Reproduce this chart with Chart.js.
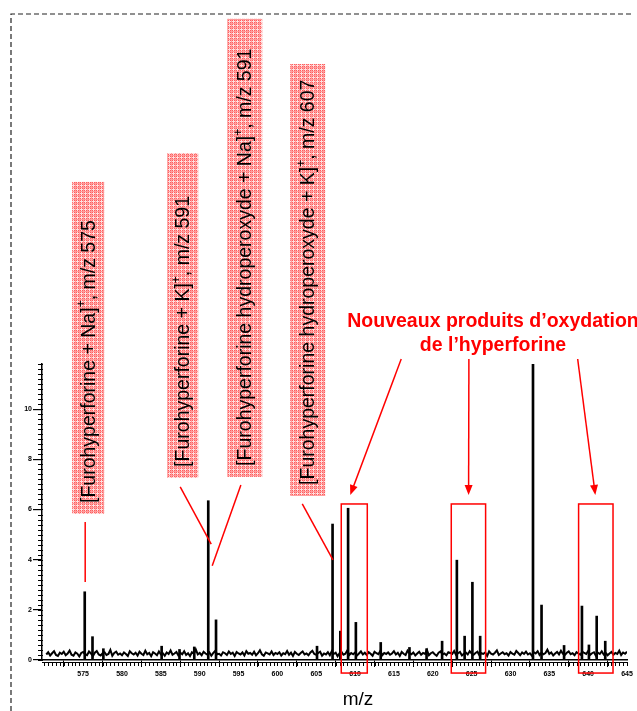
<!DOCTYPE html>
<html>
<head>
<meta charset="utf-8">
<script src="https://cdn.jsdelivr.net/npm/chart.js@4.4.1/dist/chart.umd.min.js"></script>
<style>
  html, body { margin: 0; padding: 0; background: #fff; }
  #wrap { width: 637px; height: 711px; position: relative; }
</style>
</head>
<body>
<div id="wrap"><canvas id="msChart"></canvas></div>
<script>
// Spectre de masse : m/z 570 - 645
const xTicks = [575, 580, 585, 590, 595, 600, 605, 610, 615, 620, 625, 630, 635, 640, 645];
const yTicks = [0, 2, 4, 6, 8, 10];

// pics principaux (m/z, intensité)
const peakMz = [575.2, 576.2, 577.6, 585.1, 587.4, 589.3, 591.1, 592.1, 605.1, 607.1, 608.1, 609.1,
    610.1, 613.3, 617.0, 619.2, 621.2, 623.1, 624.1, 625.1, 626.1, 632.9, 634.0, 636.9,
    639.2, 640.1, 641.1, 642.2];
const peakIntensity = [2.72, 0.93, 0.45, 0.55, 0.42, 0.52, 6.35, 1.6, 0.55, 5.42, 1.15, 6.05,
    1.5, 0.7, 0.5, 0.45, 0.75, 3.98, 0.95, 3.1, 0.95, 11.8, 2.19, 0.58,
    2.15, 0.6, 1.75, 0.75];

// bruit de fond, un point tous les 0.25 m/z depuis 570.25
const noiseStart = 570.25;
const noiseStep = 0.25;
const noiseValues = [
    0.22,0.31,0.18,0.27,0.35,0.20,0.16,0.29,0.24,0.33,0.19,0.26,0.38,0.21,0.17,0.30,0.25,0.14,0.28,0.32,
    0.23,0.19,0.34,0.26,0.15,0.29,0.36,0.22,0.18,0.27,0.31,0.20,0.24,0.40,0.17,0.28,0.33,0.21,0.26,0.19,
    0.30,0.24,0.16,0.35,0.27,0.22,0.29,0.18,0.33,0.25,0.20,0.37,0.23,0.28,0.15,0.31,0.26,0.19,0.34,0.22,
    0.27,0.17,0.30,0.24,0.38,0.21,0.26,0.32,0.18,0.29,0.23,0.35,0.20,0.27,0.16,0.31,0.25,0.42,0.22,0.28,
    0.19,0.33,0.26,0.21,0.30,0.17,0.28,0.36,0.23,0.25,0.18,0.31,0.27,0.20,0.34,0.24,0.29,0.16,0.32,0.26,
    0.22,0.30,0.18,0.35,0.25,0.28,0.21,0.33,0.19,0.27,0.39,0.23,0.17,0.30,0.26,0.22,0.34,0.20,0.28,0.24,
    0.31,0.18,0.27,0.23,0.36,0.21,0.29,0.16,0.32,0.25,0.20,0.28,0.34,0.22,0.26,0.19,0.30,0.37,0.24,0.21,
    0.28,0.33,0.17,0.26,0.22,0.31,0.19,0.35,0.24,0.29,0.15,0.27,0.32,0.21,0.25,0.38,0.20,0.28,0.23,0.30,
    0.18,0.26,0.34,0.22,0.29,0.20,0.31,0.25,0.17,0.33,0.27,0.23,0.36,0.19,0.28,0.24,0.30,0.21,0.26,0.35,
    0.22,0.29,0.16,0.32,0.25,0.20,0.37,0.27,0.23,0.30,0.18,0.26,0.33,0.21,0.28,0.24,0.40,0.19,0.27,0.31,
    0.23,0.17,0.29,0.34,0.22,0.26,0.19,0.31,0.28,0.24,0.36,0.20,0.27,0.32,0.18,0.25,0.30,0.22,0.35,0.26,
    0.21,0.28,0.33,0.19,0.27,0.24,0.30,0.16,0.34,0.25,0.22,0.29,0.38,0.20,0.26,0.31,0.23,0.27,0.18,0.32,
    0.25,0.21,0.36,0.28,0.19,0.30,0.24,0.33,0.22,0.27,0.17,0.31,0.26,0.35,0.20,0.29,0.23,0.28,0.41,0.24,
    0.30,0.18,0.26,0.32,0.22,0.37,0.25,0.20,0.29,0.34,0.23,0.27,0.19,0.31,0.26,0.21,0.33,0.28,0.24,0.36,
    0.20,0.27,0.31,0.17,0.29,0.24,0.35,0.22,0.28,0.19,0.26,0.32,0.21,0.28,0.24,0.37,0.20,0.30,0.25,0.33
];

// étiquettes des ions (boîtes hachurées), en unités du graphe
const ionLabels = [
    { text: ['[Furohyperforine + Na]', '+', ', m/z 575'], x0: 573.58, x1: 577.70, top: 19.06, bottom: 5.82 },
    { text: ['[Furohyperforine + K]', '+', ', m/z 591'], x0: 585.81, x1: 589.81, top: 20.21, bottom: 7.26 },
    { text: ['[Furohyperforine hydroperoxyde + Na]', '+', ', m/z 591'], x0: 593.54, x1: 598.05, top: 25.56, bottom: 7.30 },
    { text: ['[Furohyperforine hydroperoxyde + K]', '+', ', m/z 607'], x0: 601.65, x1: 606.16, top: 23.76, bottom: 6.54 }
];
const calloutLines = [
    [575.26, 5.50, 575.26, 3.11],
    [587.49, 6.90, 591.48, 4.62],
    [595.30, 6.98, 591.61, 3.76],
    [603.20, 6.22, 607.15, 3.99]
];
const productBoxes = [[608.22, 611.57], [622.38, 626.80], [638.77, 643.20]];
const productArrows = [
    [615.94, 12.0, 609.38, 6.58],
    [624.65, 12.0, 624.61, 6.58],
    [638.65, 12.0, 640.92, 6.58]
];

const FONT = '"Liberation Sans", Arial, Helvetica, sans-serif';
Chart.defaults.font.family = FONT;

function hatchPattern(ctx) {
    const tile = document.createElement('canvas');
    tile.width = 4; tile.height = 4;
    const t = tile.getContext('2d');
    t.fillStyle = '#ff5c5c';
    t.fillRect(0, 0, 4, 4);
    t.fillStyle = '#ffdede';
    t.fillRect(0, 1, 4, 1);
    t.fillRect(1, 0, 1, 4);
    t.fillStyle = '#ff9a9a';
    t.fillRect(0, 3, 4, 1);
    t.fillRect(3, 0, 1, 4);
    return ctx.createPattern(tile, 'repeat');
}

function arrow(ctx, x1, y1, x2, y2) {
    const a = Math.atan2(y2 - y1, x2 - x1);
    const len = 10, half = 4;
    ctx.beginPath();
    ctx.moveTo(x1, y1);
    ctx.lineTo(x2 - Math.cos(a) * len * 0.8, y2 - Math.sin(a) * len * 0.8);
    ctx.stroke();
    ctx.beginPath();
    ctx.moveTo(x2, y2);
    ctx.lineTo(x2 - Math.cos(a) * len - Math.sin(a) * half, y2 - Math.sin(a) * len + Math.cos(a) * half);
    ctx.lineTo(x2 - Math.cos(a) * len + Math.sin(a) * half, y2 - Math.sin(a) * len - Math.cos(a) * half);
    ctx.closePath();
    ctx.fill();
}

const annotate = {
    id: 'annotate',
    afterDraw(chart) {
        const { ctx, scales: { x, y } } = chart;
        const px = v => x.getPixelForValue(v);
        const py = v => y.getPixelForValue(v);
        ctx.save();

        // graduations secondaires
        ctx.strokeStyle = '#000';
        ctx.lineWidth = 1;
        ctx.beginPath();
        for (let v = 0; v <= 11.81; v += 0.2) {
            const yy = Math.round(py(v)) + 0.5;
            ctx.moveTo(x.left - 4, yy);
            ctx.lineTo(x.left + 1, yy);
        }
        for (let v = 570; v <= 645.01; v += 0.5) {
            const xx = Math.round(px(v)) + 0.5;
            ctx.moveTo(xx, y.bottom + 2);
            ctx.lineTo(xx, y.bottom + 6);
        }
        ctx.moveTo(x.left, y.bottom + 2.5);
        ctx.lineTo(x.right, y.bottom + 2.5);
        ctx.stroke();

        // cadre pointillé
        ctx.setLineDash([5, 3]);
        ctx.lineWidth = 1.2;
        ctx.strokeStyle = '#222';
        ctx.beginPath();
        ctx.moveTo(11, 711);
        ctx.lineTo(11, 14);
        ctx.lineTo(634, 14);
        ctx.stroke();
        ctx.setLineDash([]);

        // étiquettes hachurées
        const pat = hatchPattern(ctx);
        ionLabels.forEach(lab => {
            const l = px(lab.x0), r = px(lab.x1), t = py(lab.top), b = py(lab.bottom);
            ctx.fillStyle = pat;
            ctx.fillRect(l, t, r - l, b - t);
            ctx.save();
            ctx.translate((l + r) / 2 + 1, b - 11);
            ctx.rotate(-Math.PI / 2);
            ctx.fillStyle = '#000';
            ctx.textBaseline = 'middle';
            ctx.textAlign = 'left';
            ctx.font = '19.5px ' + FONT;
            let cx = 0;
            ctx.fillText(lab.text[0], cx, 0);
            cx += ctx.measureText(lab.text[0]).width;
            ctx.font = '12px ' + FONT;
            ctx.fillText(lab.text[1], cx, -7);
            cx += ctx.measureText(lab.text[1]).width;
            ctx.font = '19.5px ' + FONT;
            ctx.fillText(lab.text[2], cx, 0);
            ctx.restore();
        });

        // traits rouges vers les pics
        ctx.strokeStyle = '#ff0000';
        ctx.fillStyle = '#ff0000';
        ctx.lineWidth = 1.5;
        calloutLines.forEach(([a, b, c, d]) => {
            ctx.beginPath();
            ctx.moveTo(px(a), py(b));
            ctx.lineTo(px(c), py(d));
            ctx.stroke();
        });

        // cadres des nouveaux produits
        productBoxes.forEach(([a, b]) => {
            ctx.strokeRect(px(a), py(6.22), px(b) - px(a), py(-0.52) - py(6.22));
        });
        productArrows.forEach(([a, b, c, d]) => arrow(ctx, px(a), py(b), px(c), py(d)));

        // titre
        ctx.font = 'bold 19.5px ' + FONT;
        ctx.textAlign = 'center';
        ctx.textBaseline = 'alphabetic';
        ctx.fillText('Nouveaux produits d\u2019oxydation', 493, 327);
        ctx.fillText('de l\u2019hyperforine', 493, 351);

        // titre de l'axe
        ctx.fillStyle = '#000';
        ctx.font = '19px ' + FONT;
        ctx.fillText('m/z', 358, 705);
        ctx.restore();
    }
};

new Chart(document.getElementById('msChart').getContext('2d'), {
    type: 'bar',
    data: {
        datasets: [
            {
                type: 'line',
                data: noiseValues.map((v, i) => ({ x: noiseStart + i * noiseStep, y: v })),
                borderColor: '#000',
                borderWidth: 2,
                pointRadius: 0,
                tension: 0,
                order: 2
            },
            {
                type: 'bar',
                data: peakMz.map((m, i) => ({ x: m, y: peakIntensity[i] })),
                backgroundColor: '#000',
                barThickness: 2,
                order: 1
            }
        ]
    },
    options: {
        responsive: true,
        maintainAspectRatio: false,
        animation: false,
        layout: { padding: { top: 364, right: 10, left: 0, bottom: 0 } },
        plugins: { legend: { display: false }, tooltip: { enabled: false } },
        scales: {
            x: {
                type: 'linear',
                min: 569.7,
                max: 645,
                offset: false,
                afterBuildTicks: s => { s.ticks = xTicks.map(v => ({ value: v })); },
                afterFit: s => { s.height = 51; },
                grid: { drawOnChartArea: false, tickLength: 7, color: '#000', lineWidth: 1 },
                border: { color: '#000', width: 1.5 },
                ticks: {
                    color: '#000', font: { size: 7, weight: 'bold' }, padding: 3,
                    maxRotation: 0, autoSkip: false
                }
            },
            y: {
                min: 0,
                max: 11.8,
                afterBuildTicks: s => { s.ticks = yTicks.map(v => ({ value: v })); },
                afterFit: s => { s.width = 42; },
                grid: { drawOnChartArea: false, tickLength: 9, color: '#000', lineWidth: 1.2 },
                border: { color: '#000', width: 1.5 },
                ticks: { color: '#000', font: { size: 7, weight: 'bold' }, padding: 1 }
            }
        }
    },
    plugins: [annotate]
});
</script>
</body>
</html>
